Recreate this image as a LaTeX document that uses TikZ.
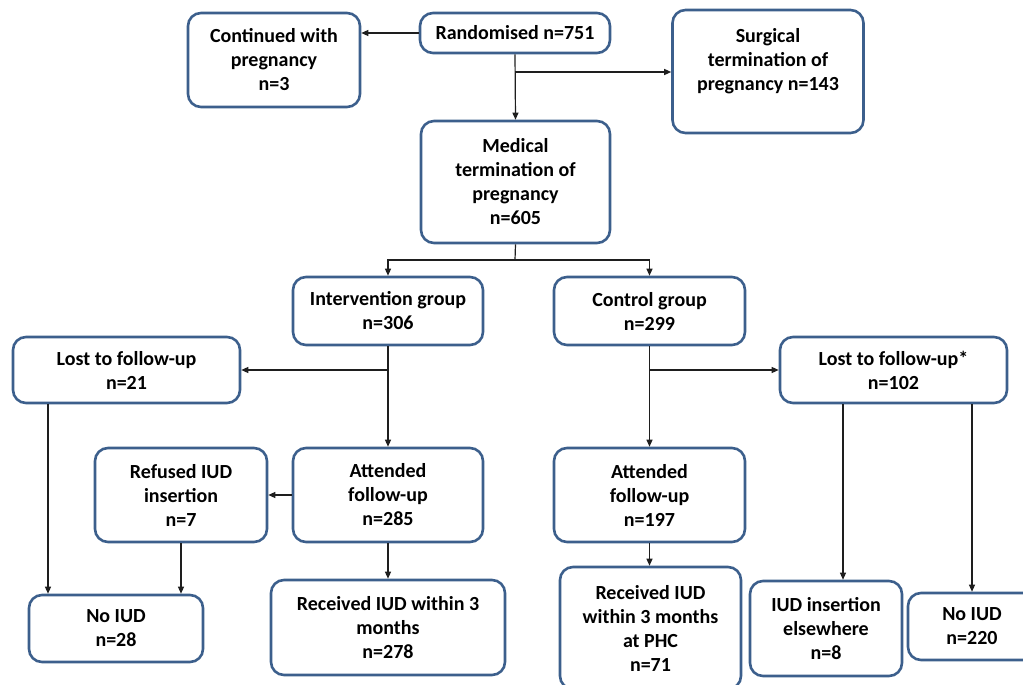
\documentclass[tikz,border=0pt]{standalone}
\usepackage{fontspec}
\setmainfont{Carlito}
\usetikzlibrary{arrows.meta}
\definecolor{bordercol}{RGB}{60,95,140}
\definecolor{linecol}{RGB}{30,30,30}
\tikzset{
  box/.style={draw=bordercol, line width=2.6pt, rounded corners=13pt, fill=white,
    align=center, inner sep=0pt, font=\fontsize{20}{24}\selectfont\bfseries},
  txt/.style={align=center, inner sep=0pt, font=\fontsize{20}{24}\selectfont\bfseries},
  conn/.style={draw=linecol, line width=1.2pt},
  arr/.style={conn, -{Triangle[length=7pt,width=6pt]}}
}
\begin{document}
\begin{tikzpicture}[x=1pt,y=-1pt]
\useasboundingbox (0,0) rectangle (1023,685);
\begin{scope}
\clip (0,0) rectangle (1023,685);
% top row
\node[box, minimum width=172pt, minimum height=94pt] (cont) at (274,60) {Continued with\\pregnancy\\n=3};
\node[box, minimum width=190pt, minimum height=40pt] (rand) at (515,33) {Randomised n=751};
\node[box, minimum width=191pt, minimum height=123pt] (surg) at (768,71.5) {};
\node[txt] (surgt) at (768,61) {Surgical\\termination of\\pregnancy n=143};
\node[box, minimum width=189pt, minimum height=122pt] (med) at (515.5,182) {Medical\\termination of\\pregnancy\\n=605};
% groups
\node[box, minimum width=190pt, minimum height=68pt] (int) at (388,311) {Intervention group\\n=306};
\node[box, minimum width=191pt, minimum height=68pt] (ctrl) at (649.5,311) {Control group\\n=299};
\node[box, minimum width=227pt, minimum height=66pt] (lostL) at (126.5,370) {Lost to follow-up\\n=21};
\node[box, minimum width=227pt, minimum height=66pt] (lostR) at (893.5,370) {Lost to follow-up*\\n=102};
% attended row
\node[box, minimum width=172pt, minimum height=94pt] (ref) at (181,495) {Refused IUD\\insertion\\n=7};
\node[box, minimum width=190pt, minimum height=94pt] (attL) at (388,495) {Attended\\follow-up\\n=285};
\node[box, minimum width=191pt, minimum height=94pt] (attR) at (649.5,495) {Attended\\follow-up\\n=197};
% bottom row
\node[box, minimum width=174pt, minimum height=67pt] (noL) at (116,628.5) {No IUD\\n=28};
\node[box, minimum width=234pt, minimum height=95pt] (recL) at (388,627.5) {Received IUD within 3\\months\\n=278};
\node[box, minimum width=181pt, minimum height=122pt] (recR) at (650.5,628) {Received IUD\\within 3 months\\at PHC\\n=71};
\node[box, minimum width=152pt, minimum height=95pt] (else) at (826,628.5) {IUD insertion\\elsewhere\\n=8};
\node[box, minimum width=128pt, minimum height=67pt] (noR) at (972,626.5) {No IUD\\n=220};
\end{scope}
% helper coordinates
\coordinate (b1) at (515,72);
\coordinate (m1) at (515,260);
\coordinate (i1) at (388,370);
\coordinate (c1) at (650,370);
\coordinate (x48) at (48,0);
\coordinate (x843) at (843,0);
\coordinate (x972) at (972,0);
% connectors
\draw[arr] (rand.west) -- (cont.east |- rand.west);
\draw[arr] (rand.south) -- (med.north);
\draw[arr] (b1) -- (surg.west |- b1);
\draw[conn] (med.south) -- (m1);
\draw[arr] (m1) -| (int.north);
\draw[arr] (m1) -| (ctrl.north);
\draw[arr] (int.south) -- (attL.north);
\draw[arr] (i1) -- (lostL.east);
\draw[arr] (ctrl.south) -- (attR.north);
\draw[arr] (c1) -- (lostR.west);
\draw[arr] (lostL.south -| x48) -- (noL.north -| x48);
\draw[arr] (ref.south) -- (ref.south |- noL.north);
\draw[arr] (attL.west) -- (ref.east);
\draw[arr] (attL.south) -- (recL.north);
\draw[arr] (attR.south) -- (attR.south |- recR.north);
\draw[arr] (lostR.south -| x843) -- (else.north -| x843);
\draw[arr] (lostR.south -| x972) -- (noR.north);
\end{tikzpicture}
\end{document}
